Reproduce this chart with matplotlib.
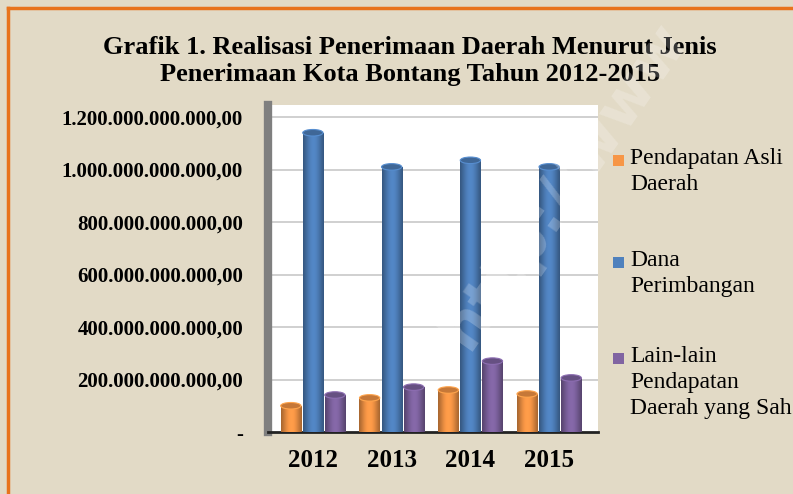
import numpy as np
import matplotlib
matplotlib.use("Agg")
import matplotlib.pyplot as plt
from matplotlib.patches import Rectangle, Ellipse
from matplotlib.lines import Line2D

# data (Rupiah)
years = ["2012", "2013", "2014", "2015"]
series_names = [
    "Pendapatan Asli\nDaerah",
    "Dana\nPerimbangan",
    "Lain-lain\nPendapatan\nDaerah yang Sah",
]
pad = [100e9, 130e9, 160e9, 145e9]
dana = [1140e9, 1010e9, 1035e9, 1010e9]
lain = [141e9, 171e9, 270e9, 206e9]
series_colors = ["#f79646", "#4f81bd", "#8064a2"]
y_ticks = [0, 200e9, 400e9, 600e9, 800e9, 1000e9, 1200e9]
y_tick_labels = ["-", "200.000.000.000,00", "400.000.000.000,00", "600.000.000.000,00",
                 "800.000.000.000,00", "1.000.000.000.000,00", "1.200.000.000.000,00"]

BG = "#e2dac6"
SERIF = ["Liberation Serif", "DejaVu Serif"]

fig = plt.figure(figsize=(7.93, 4.94), dpi=100, facecolor=BG)

# orange frame (top and left edges)
fig.add_artist(Line2D([8 / 793, 1], [1 - 8 / 494] * 2, color="#e8731c", lw=2.5,
                      transform=fig.transFigure))
fig.add_artist(Line2D([8 / 793] * 2, [0, 1 - 8 / 494], color="#e8731c", lw=2.5,
                      transform=fig.transFigure))

ax = fig.add_axes([268 / 793, 62 / 494, 330 / 793, 327 / 494])
ax.set_facecolor("white")
ylim_top = 1200e9 * (432 - 105) / (432 - 117)

for t in y_ticks[1:]:
    ax.axhline(t, color="#c8c8c8", lw=1.2, zorder=1)

x = np.arange(len(years))
w = 0.28
offsets = [-w, 0, w]
grad = np.linspace(0, 1, 64).reshape(1, -1)
shade = 0.55 + 0.45 * np.sin(np.pi * (0.15 + 0.7 * grad)) ** 2


def cylinder(xc, h, color):
    rgb = np.array(matplotlib.colors.to_rgb(color))
    bar = ax.bar(xc, h, width=w * 0.92, color=color, zorder=3)[0]
    img = np.clip(rgb[None, None, :] * shade[..., None] * 1.05, 0, 1)
    im = ax.imshow(img, extent=[xc - w * 0.46, xc + w * 0.46, 0, h], aspect="auto",
                   zorder=3.5, interpolation="bicubic")
    im.set_clip_path(bar)
    cap_h = ylim_top * 0.02
    ax.add_patch(Ellipse((xc, h), w * 0.92, cap_h, facecolor=np.clip(rgb * 0.8, 0, 1),
                         edgecolor=np.clip(rgb * 1.1, 0, 1), lw=0.8, zorder=4))


for vals, off, col in zip([pad, dana, lain], offsets, series_colors):
    for xi, v in zip(x, vals):
        cylinder(xi + off, v, col)

ax.set_ylim(0, ylim_top)
ax.set_xlim(-0.57, 3.62)
ax.set_xticks(x)
ax.set_xticklabels(years, fontsize=18, fontweight="bold", family=SERIF)
ax.set_yticks(y_ticks)
ax.set_yticklabels(y_tick_labels, fontsize=15, fontweight="bold", family=SERIF)
ax.tick_params(axis="y", length=0, pad=18)
ax.tick_params(axis="x", length=0, pad=12)
for s in ["top", "right"]:
    ax.spines[s].set_visible(False)
ax.spines["left"].set_color("#7f7f7f")
ax.spines["left"].set_linewidth(6)
ax.spines["bottom"].set_color("#222222")
ax.spines["bottom"].set_linewidth(2)

# title
fig.text(410 / 793, 1 - 47 / 494, "Grafik 1. Realisasi Penerimaan Daerah Menurut Jenis",
         ha="center", va="center", fontsize=19, fontweight="bold", family=SERIF)
fig.text(410 / 793, 1 - 74 / 494, "Penerimaan Kota Bontang Tahun 2012-2015",
         ha="center", va="center", fontsize=19, fontweight="bold", family=SERIF)

# legend
leg_y = [160, 262, 358]
for name, col, yy in zip(series_names, series_colors, leg_y):
    fig.add_artist(Rectangle((613 / 793, 1 - (yy + 6) / 494), 11 / 793, 11 / 494,
                             facecolor=col, edgecolor="none", transform=fig.transFigure))
    fig.text(630 / 793, 1 - (yy - 12) / 494, name, ha="left", va="top", fontsize=17,
             family=SERIF, linespacing=1.3)

# faint watermark
fig.text(565 / 793, 1 - 185 / 494, "http://www", rotation=55, fontsize=44,
         fontweight="bold", color="white", alpha=0.22, ha="center", va="center",
         family=["DejaVu Sans"], zorder=10)

fig.savefig("out.png", dpi=100, facecolor=BG)
